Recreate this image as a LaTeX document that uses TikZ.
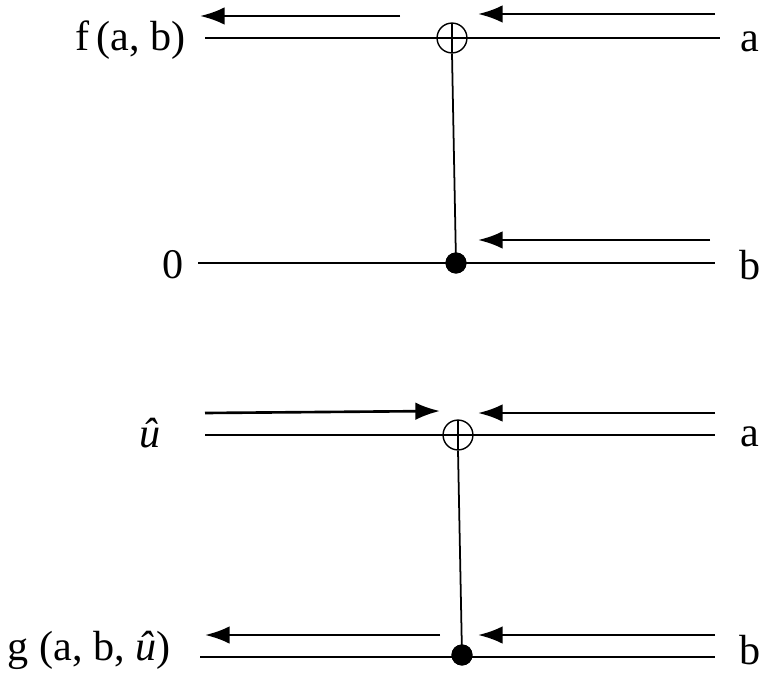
\documentclass[tikz,border=0pt]{standalone}
\usepackage{fontspec}
\setmainfont{Liberation Serif}
\usetikzlibrary{arrows.meta}
\begin{document}
\begin{tikzpicture}[x=0.02cm,y=-0.02cm,line width=1.5pt,
  arr/.style={-{Latex[length=14pt,width=10pt]}},
  lbl/.style={font=\fontsize{24}{28}\selectfont,inner sep=0pt},
  xo/.style={circle,draw,line width=0.8pt,fill=white,minimum size=17pt,inner sep=0pt,
    path picture={\draw[line width=0.8pt] (path picture bounding box.north)--(path picture bounding box.south) (path picture bounding box.west)--(path picture bounding box.east);}},
  dot/.style={circle,fill=black,minimum size=12pt,inner sep=0pt}]
\useasboundingbox (0,0) rectangle (777,675);
% top circuit
\coordinate (l1) at (205,38); \coordinate (r1) at (720,38);
\coordinate (l2) at (198,263); \coordinate (r2) at (715,263);
\draw (l1)--(r1); \draw (l2)--(r2);
\node[dot] (d1) at (456,263) {};
\node[xo] (o1) at (452,38) {};
\draw[line width=1pt] (o1.south)--(d1.center);
\node[dot] at (456,263) {};
\coordinate (a1s) at (400,16); \coordinate (a1e) at (200,16);
\coordinate (a2s) at (715,14); \coordinate (a2e) at (478,14);
\coordinate (a3s) at (710,240); \coordinate (a3e) at (478,240);
\draw[arr] (a1s)--(a1e); \draw[arr] (a2s)--(a2e); \draw[arr] (a3s)--(a3e);
\node[lbl,anchor=east] (f) at (187,40) {f\,(a, b)};
\node[lbl] (a) at (750,42) {a};
\node[lbl,anchor=east] (z) at (185,265) {0};
\node[lbl] (b) at (750,265) {b};
% bottom circuit
\coordinate (l3) at (205,435); \coordinate (r3) at (715,435);
\coordinate (l4) at (200,657); \coordinate (r4) at (715,657);
\draw (l3)--(r3); \draw (l4)--(r4);
\node[dot] (d2) at (462,655) {};
\node[xo] (o2) at (458,435) {};
\draw[line width=1pt] (o2.south)--(d2.center);
\node[dot] at (462,655) {};
\coordinate (b1s) at (205,413); \coordinate (b1e) at (440,411);
\coordinate (b2s) at (715,413); \coordinate (b2e) at (478,413);
\coordinate (b3s) at (440,635); \coordinate (b3e) at (205,635);
\coordinate (b4s) at (715,635); \coordinate (b4e) at (478,635);
\draw[arr] (b1s)--(b1e); \draw[arr] (b2s)--(b2e); \draw[arr] (b3s)--(b3e); \draw[arr] (b4s)--(b4e);
\node[lbl] (u) at (150,433) {\textit{û}};
\node[lbl] (a2) at (750,437) {a};
\node[lbl,anchor=east] (g) at (172,650) {g (a, b, \textit{û})};
\node[lbl] (b2) at (750,650) {b};
\end{tikzpicture}
\end{document}
